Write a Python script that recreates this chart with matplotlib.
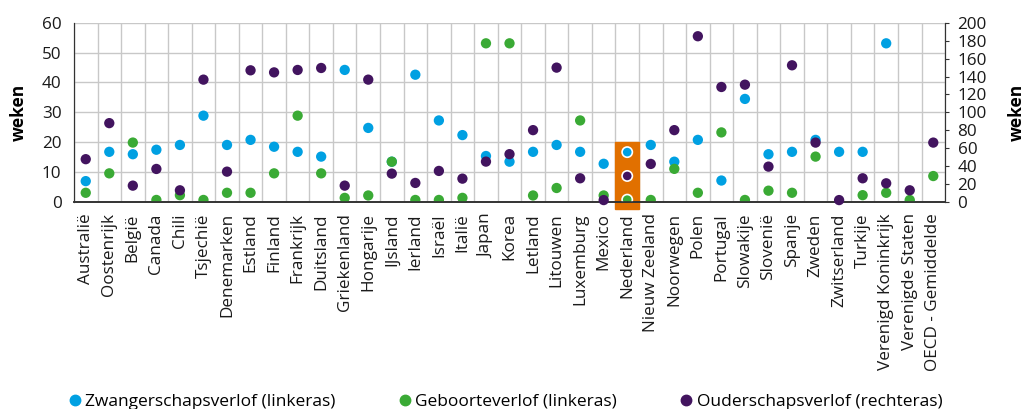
import numpy as np
import matplotlib
matplotlib.use("Agg")
import matplotlib.pyplot as plt
from matplotlib.lines import Line2D
from matplotlib.patches import Rectangle

plt.rcParams['font.family'] = ['Open Sans', 'DejaVu Sans']

landen = ["Australië", "Oostenrijk", "België", "Canada", "Chili", "Tsjechië",
          "Denemarken", "Estland", "Finland", "Frankrijk", "Duitsland",
          "Griekenland", "Hongarije", "IJsland", "Ierland", "Israël", "Italië",
          "Japan", "Korea", "Letland", "Litouwen", "Luxemburg", "Mexico",
          "Nederland", "Nieuw Zeeland", "Noorwegen", "Polen", "Portugal",
          "Slowakije", "Slovenië", "Spanje", "Zweden", "Zwitserland", "Turkije",
          "Verenigd Koninkrijk", "Verenigde Staten", "OECD - Gemiddelde"]

# weken (linkeras)
zwangerschap = [7.0, 16.8, 16.0, 17.5, 19.1, 28.9, 19.1, 20.8, 18.5, 16.8, 15.2,
                44.2, 24.8, 13.5, 42.6, 27.3, 22.4, 15.4, 13.5, 16.8, 19.1, 16.8,
                12.8, 16.7, 19.1, 13.5, 20.8, 7.2, 34.5, 16.0, 16.8, 20.8, 16.8,
                16.8, 53.1, 0.0, np.nan]
geboorte = [3.1, 9.6, 19.9, 0.7, 2.3, 0.7, 3.1, 3.1, 9.6, 28.9, 9.6,
            1.4, 2.2, 13.5, 0.7, 0.7, 1.4, 53.1, 53.1, 2.2, 4.7, 27.3,
            2.2, 0.8, 0.7, 11.1, 3.1, 23.3, 0.7, 3.8, 3.1, 15.2, 0.0,
            2.3, 3.1, 0.7, 8.7]
# weken (rechteras)
ouderschap = [47.8, 88.0, 18.3, 36.9, 13.1, 136.5, 33.9, 146.9, 144.6, 147.3, 149.5,
              18.3, 136.5, 31.7, 21.3, 34.7, 26.1, 45.1, 53.4, 80.2, 149.9, 26.5,
              2.2, 29.1, 42.5, 80.2, 184.9, 128.3, 130.9, 39.5, 152.5, 66.3, 2.2,
              26.5, 20.9, 13.1, 66.3]

blauw = "#00A0E2"
groen = "#3AAA35"
paars = "#42145F"
oranje = "#E17000"
highlight = "Nederland"

fig = plt.figure(figsize=(10.26, 4.09), dpi=100)
ax = fig.add_axes([0.0721, 0.506, 0.849, 0.4385])
ax2 = ax.twinx()

x = np.arange(len(landen))
hl = landen.index(highlight)

ax.set_xlim(-0.5, len(landen) - 0.5)
ax.set_ylim(0, 60)
ax2.set_ylim(0, 200)

# oranje markering achter Nederland
ax.add_patch(Rectangle((hl - 0.5, -2.2), 1, 22.2, color=oranje, zorder=1,
                       clip_on=False))

# grid
for b in np.arange(-0.5, len(landen), 1):
    ax.axvline(b, color="#c8c8c8", lw=1, zorder=0)
for v in range(10, 61, 10):
    ax.axhline(v, color="#c8c8c8", lw=1, zorder=0)

ec = ["white" if i == hl else "none" for i in x]
ax.scatter(x, zwangerschap, s=55, color=blauw, edgecolors=ec, linewidths=1.2, zorder=3)
ax.scatter(x, geboorte, s=55, color=groen, edgecolors=ec, linewidths=1.2, zorder=3)
ax2.scatter(x, ouderschap, s=55, color=paars, edgecolors=ec, linewidths=1.2, zorder=3,
            clip_on=False)
ax2.set_zorder(ax.get_zorder() + 1)
ax2.patch.set_visible(False)

fs = 12.3
ax.set_xticks(x)
ax.set_xticklabels(landen, rotation=90, fontsize=fs, color="#1a1a1a")
ax.tick_params(axis="x", length=0, pad=8)
ax.set_yticks(range(0, 61, 10))
ax.tick_params(axis="y", length=0, labelsize=fs, pad=9, labelcolor="#1a1a1a")
ax2.set_yticks(range(0, 201, 20))
ax2.tick_params(axis="y", length=3, labelsize=fs, pad=6, labelcolor="#1a1a1a",
                color="#333333")

for a in (ax, ax2):
    a.spines["top"].set_visible(False)
    a.spines["left"].set_color("#333333")
    a.spines["right"].set_color("#333333")
    a.spines["bottom"].set_color("#333333")
    a.spines["bottom"].set_linewidth(1.2)

ax.set_ylabel("weken", fontsize=12.5, fontweight="bold")
ax2.set_ylabel("weken", fontsize=12.5, fontweight="bold")
ax.yaxis.set_label_coords(-0.053, 0.5)
ax2.yaxis.set_label_coords(1.0725, 0.5)

handles = [Line2D([], [], ls="", marker="o", ms=7.5, color=blauw),
           Line2D([], [], ls="", marker="o", ms=7.5, color=groen),
           Line2D([], [], ls="", marker="o", ms=7.5, color=paars)]
labels = ["Zwangerschapsverlof (linkeras)", "Geboorteverlof (linkeras)",
          "Ouderschapsverlof (rechteras)"]
fig.legend(handles, labels, loc="lower left", bbox_to_anchor=(0.049, -0.04),
           ncol=3, frameon=False, fontsize=12.5, handletextpad=0.1,
           handlelength=1.0, columnspacing=3.5)

fig.savefig("out.png", dpi=100)
